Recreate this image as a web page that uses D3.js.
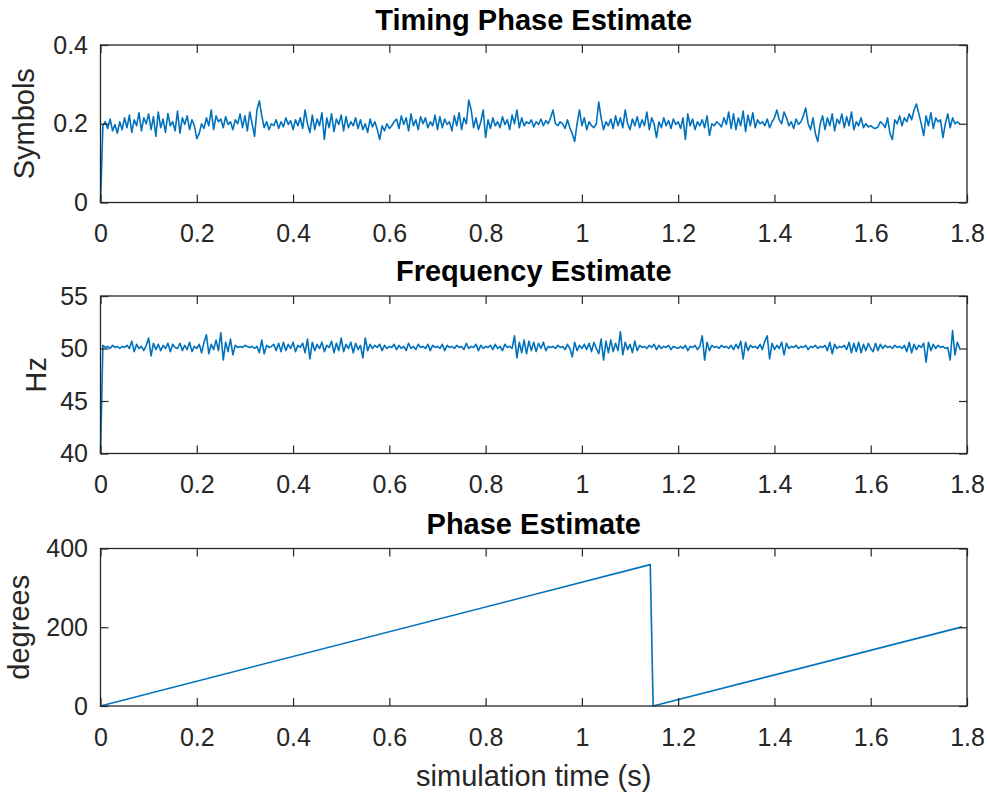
<!DOCTYPE html>
<html>
<head>
<meta charset="utf-8">
<script src="https://cdn.jsdelivr.net/npm/d3@7.9.0/dist/d3.min.js"></script>
<style>
  body { margin: 0; background: #fff; }
  svg { font-family: "Liberation Sans", Arial, Helvetica, sans-serif; }
</style>
</head>
<body>
<div id="chart"></div>
<script>
// sample step of the two estimator outputs (s)
const sampleStep = 0.005;

// timing phase estimate (symbols), one value per sample starting at t = 0
const timingEstimate = [
  0.000,
  0.195,0.205,0.188,0.212,0.182,0.198,0.176,0.205,0.185,0.215,0.19,0.222,0.178,0.21,0.195,0.228,0.182,0.215,0.2,0.225,
  0.185,0.218,0.168,0.23,0.19,0.212,0.178,0.226,0.195,0.205,0.182,0.232,0.176,0.215,0.198,0.22,0.185,0.21,0.195,0.162,
  0.175,0.2,0.188,0.215,0.195,0.235,0.185,0.22,0.205,0.212,0.19,0.218,0.198,0.205,0.185,0.21,0.2,0.225,0.19,0.22,
  0.182,0.23,0.2,0.168,0.235,0.258,0.22,0.19,0.205,0.185,0.2,0.195,0.21,0.188,0.205,0.192,0.215,0.198,0.208,0.185,
  0.21,0.195,0.215,0.188,0.235,0.2,0.178,0.222,0.185,0.212,0.195,0.228,0.16,0.215,0.19,0.225,0.18,0.212,0.198,0.222,
  0.182,0.218,0.19,0.205,0.195,0.215,0.188,0.21,0.185,0.2,0.178,0.212,0.192,0.205,0.185,0.16,0.195,0.182,0.2,0.188,
  0.195,0.205,0.212,0.188,0.22,0.198,0.215,0.182,0.225,0.195,0.21,0.185,0.218,0.2,0.215,0.19,0.205,0.195,0.222,0.185,
  0.218,0.19,0.212,0.198,0.205,0.182,0.22,0.195,0.228,0.185,0.215,0.2,0.26,0.235,0.19,0.215,0.185,0.205,0.235,0.165,
  0.21,0.188,0.215,0.195,0.205,0.19,0.218,0.198,0.21,0.185,0.222,0.2,0.235,0.19,0.215,0.195,0.205,0.2,0.21,0.192,
  0.205,0.198,0.212,0.195,0.208,0.2,0.215,0.235,0.2,0.195,0.205,0.2,0.188,0.21,0.19,0.175,0.155,0.2,0.235,0.195,
  0.215,0.185,0.205,0.195,0.19,0.2,0.255,0.215,0.185,0.205,0.195,0.212,0.188,0.22,0.195,0.215,0.19,0.235,0.2,0.185,
  0.212,0.195,0.218,0.19,0.21,0.195,0.23,0.185,0.215,0.2,0.165,0.205,0.19,0.215,0.195,0.208,0.188,0.212,0.198,0.205,
  0.188,0.215,0.16,0.225,0.195,0.212,0.185,0.205,0.195,0.21,0.19,0.22,0.17,0.2,0.195,0.205,0.2,0.192,0.215,0.198,
  0.23,0.188,0.225,0.185,0.215,0.195,0.232,0.18,0.222,0.195,0.228,0.19,0.21,0.2,0.205,0.195,0.212,0.19,0.205,0.215,
  0.235,0.21,0.2,0.23,0.215,0.195,0.205,0.188,0.212,0.198,0.205,0.22,0.24,0.2,0.185,0.215,0.175,0.155,0.2,0.22,
  0.185,0.215,0.195,0.225,0.182,0.212,0.2,0.225,0.19,0.218,0.195,0.23,0.185,0.205,0.195,0.215,0.19,0.2,0.192,0.195,
  0.19,0.188,0.192,0.205,0.2,0.19,0.215,0.175,0.16,0.21,0.2,0.22,0.195,0.215,0.205,0.225,0.21,0.235,0.25,0.225,
  0.2,0.17,0.22,0.195,0.228,0.188,0.215,0.205,0.21,0.165,0.2,0.225,0.19,0.215,0.2,0.205,0.2
];

// frequency estimate (Hz), same sampling
const frequencyEstimate = [
  40,
  50.3,50.1,50.2,50.0,50.3,50.1,50.2,50.0,50.2,50.1,50.3,50.0,50.7,49.7,50.4,50.0,50.2,49.8,50.3,51.0,
  49.3,50.5,49.9,50.4,49.8,50.3,50.0,50.5,49.7,50.4,50.1,50.0,50.5,49.8,50.3,49.9,50.6,49.7,50.2,50.0,
  50.4,49.6,50.6,51.3,49.5,50.4,49.9,50.8,49.8,51.5,48.9,50.6,49.7,50.9,49.4,50.3,50.1,50.2,50.1,50.3,
  50.2,50.1,50.2,50.0,50.2,49.6,50.8,49.5,50.3,50.1,50.2,50.4,49.8,50.5,49.7,50.6,49.8,50.4,50.0,50.6,
  49.7,50.3,50.1,50.5,49.6,50.9,49.0,50.6,49.8,50.4,50.0,50.6,49.7,50.3,50.1,50.7,49.6,50.5,49.8,51.0,
  49.7,50.4,50.0,50.6,49.6,50.5,49.9,50.3,49.1,51.0,49.8,50.4,50.0,50.3,50.1,50.4,49.8,50.3,50.0,50.2,
  50.1,50.4,49.9,50.3,50.0,50.2,49.8,50.5,50.0,50.2,49.9,50.4,50.1,50.2,50.0,50.4,49.8,50.3,50.1,50.2,
  50.0,50.4,49.8,50.3,50.1,50.2,50.0,50.3,50.1,50.2,49.9,50.5,50.0,50.2,50.1,50.4,49.8,50.3,50.0,50.2,
  50.1,50.3,49.9,50.4,50.0,50.2,49.8,50.4,50.1,50.2,50.0,51.2,49.1,50.6,49.6,50.8,49.5,50.7,49.8,50.6,
  49.7,50.5,50.0,50.6,49.8,50.2,50.1,50.2,50.0,50.3,50.1,50.2,49.9,50.4,50.0,49.2,50.6,49.8,50.3,50.0,
  50.4,49.9,50.5,49.7,50.6,50.0,49.5,50.9,48.9,50.7,49.6,50.8,49.7,50.5,49.8,51.6,49.4,50.6,49.9,50.4,
  49.6,50.7,49.8,50.3,50.1,50.2,50.0,50.3,50.1,50.4,49.9,50.3,50.0,50.2,50.1,50.3,49.9,50.2,50.1,50.0,
  50.2,50.0,50.3,49.8,50.2,50.1,50.3,49.9,50.2,51.2,48.9,50.6,49.8,50.3,50.1,50.2,50.0,50.3,50.1,50.2,
  50.0,50.3,49.9,50.4,50.0,50.7,49.0,50.6,49.8,50.3,50.1,50.2,50.0,50.4,49.9,50.7,51.2,49.0,50.5,49.9,
  50.3,50.0,50.6,49.4,50.5,50.0,50.2,50.1,50.3,50.0,50.2,50.1,50.3,49.9,50.2,50.1,50.3,50.0,50.2,50.1,
  50.3,49.8,50.6,49.5,50.4,50.0,50.2,50.1,50.3,49.9,50.6,49.6,50.5,49.7,50.6,49.6,50.4,49.8,50.5,50.0,
  49.7,50.5,49.8,50.4,50.0,50.3,50.1,50.2,50.0,50.3,50.1,50.2,50.0,50.3,49.7,50.6,49.6,50.4,49.9,50.3,
  50.1,50.5,48.7,50.6,49.8,50.4,50.0,50.3,50.1,50.2,50.0,50.1,48.9,51.7,49.4,50.6,50.0
];

// phase estimate (degrees): ramp, wrap at 360, ramp again
const phaseTimes = [0, 1.142, 1.148, 1.79];
const phaseValues = [0, 359, 0, 201];

// axis ticks
const timeTicks = [0, 0.2, 0.4, 0.6, 0.8, 1, 1.2, 1.4, 1.6, 1.8];
const timingTicks = [0, 0.2, 0.4];
const freqTicks = [40, 45, 50, 55];
const phaseTicks = [0, 200, 400];

const width = 988;
const height = 796;
const left = 100.5;
const right = 967;
const panelHeight = 157.5;
const lineColor = "#0072bd";
const axisColor = "#262626";
const tickLen = 8;

const svg = d3
  .select("#chart")
  .append("svg")
  .attr("width", width)
  .attr("height", height);

const xScale = d3.scaleLinear().domain([0, 1.8]).range([left, right]);

function drawPanel(opts) {
  const top = opts.top;
  const bottom = top + panelHeight;
  const yScale = d3.scaleLinear().domain(opts.domain).range([bottom, top]);
  const g = svg.append("g");

  // data line
  g.append("path")
    .datum(opts.points)
    .attr("fill", "none")
    .attr("stroke", lineColor)
    .attr("stroke-width", 1.6)
    .attr("stroke-linejoin", "round")
    .attr("d", d3.line().x((d) => xScale(d[0])).y((d) => yScale(d[1])));

  // axes, ticks pointing inwards like matlab
  const xb = g.append("g")
    .attr("transform", `translate(0,${bottom})`)
    .call(d3.axisBottom(xScale).tickValues(timeTicks).tickSize(-tickLen)
      .tickPadding(22).tickFormat((d) => String(d)));
  const xt = g.append("g")
    .attr("transform", `translate(0,${top})`)
    .call(d3.axisTop(xScale).tickValues(timeTicks).tickSize(-tickLen).tickFormat(""));
  const yl = g.append("g")
    .attr("transform", `translate(${left},0)`)
    .call(d3.axisLeft(yScale).tickValues(opts.ticks).tickSize(-tickLen)
      .tickPadding(12.5).tickFormat((d) => String(d)));
  const yr = g.append("g")
    .attr("transform", `translate(${right},0)`)
    .call(d3.axisRight(yScale).tickValues(opts.ticks).tickSize(-tickLen).tickFormat(""));

  [xb, xt, yl, yr].forEach((a) => {
    a.select(".domain").remove();
    a.selectAll("line").attr("stroke", axisColor).attr("stroke-width", 1.2);
    a.selectAll("text")
      .attr("fill", axisColor)
      .style("font-size", "25px")
      .style("font-family", '"Liberation Sans", Arial, sans-serif');
  });

  // box
  g.append("rect")
    .attr("x", left)
    .attr("y", top)
    .attr("width", right - left)
    .attr("height", panelHeight)
    .attr("fill", "none")
    .attr("stroke", axisColor)
    .attr("stroke-width", 1.3);

  g.append("text")
    .attr("x", (left + right) / 2)
    .attr("y", top - 15)
    .attr("text-anchor", "middle")
    .attr("fill", "#000")
    .style("font-size", "29px")
    .style("font-weight", "bold")
    .text(opts.title);

  g.append("text")
    .attr("transform", `translate(${opts.labelX},${(top + bottom) / 2}) rotate(-90)`)
    .attr("text-anchor", "middle")
    .attr("fill", axisColor)
    .style("font-size", "29px")
    .text(opts.ylabel);
}

const timingPoints = timingEstimate.map((v, i) => [i * sampleStep, v]);
const freqPoints = frequencyEstimate.map((v, i) => [i * sampleStep, v]);
const phasePoints = phaseTimes.map((t, i) => [t, phaseValues[i]]);

drawPanel({
  top: 45, domain: [0, 0.4], ticks: timingTicks, points: timingPoints,
  title: "Timing Phase Estimate", ylabel: "Symbols", labelX: 34
});
drawPanel({
  top: 296, domain: [40, 55], ticks: freqTicks, points: freqPoints,
  title: "Frequency Estimate", ylabel: "Hz", labelX: 46
});
drawPanel({
  top: 548.5, domain: [0, 400], ticks: phaseTicks, points: phasePoints,
  title: "Phase Estimate", ylabel: "degrees", labelX: 29
});

svg.append("text")
  .attr("x", (left + right) / 2)
  .attr("y", 786)
  .attr("text-anchor", "middle")
  .attr("fill", axisColor)
  .style("font-size", "29px")
  .text("simulation time (s)");
</script>
</body>
</html>
